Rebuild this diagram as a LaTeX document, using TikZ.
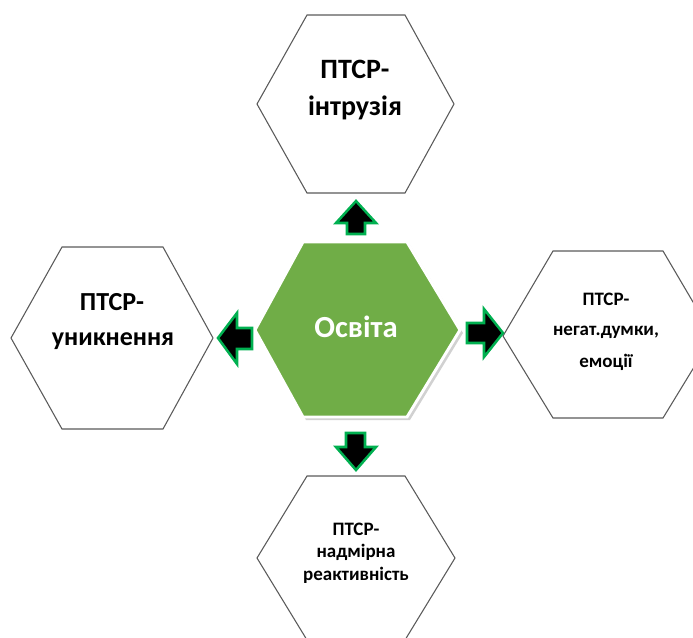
\documentclass[tikz,border=0pt]{standalone}
\usepackage{fontspec}
\setmainfont{Carlito}
\definecolor{hexgreen}{HTML}{70AD47}
\definecolor{arrgreen}{HTML}{00B050}
\definecolor{hexline}{HTML}{5A5A5A}
\tikzset{
  outerhex/.style={draw=hexline, line width=0.8pt, fill=white, line join=miter},
  centerhex/.style={draw=white, line width=2.2pt, fill=hexgreen, line join=miter},
  hexshadow/.style={fill=black!18},
  blockarrow/.style={fill=black, draw=arrgreen, line width=1.9pt, line join=miter},
  lbl/.style={inner sep=0pt, anchor=base, font=\bfseries},
}
\begin{document}
\begin{tikzpicture}[x=0.75pt, y=-0.75pt]
\useasboundingbox (0,0) rectangle (693,637);
\clip (0,0) rectangle (693,637);
% outer hexagons
\draw[outerhex] (257,104) -- (307,15) -- (405,15) -- (454,104) -- (405,193) -- (307,193) -- cycle;
\draw[outerhex] (11,338) -- (62,247) -- (163,247) -- (213,338) -- (163,429) -- (62,429) -- cycle;
\draw[outerhex] (503,336) -- (553,251) -- (663,251) -- (713,336) -- (663,418) -- (553,418) -- cycle;
\draw[outerhex] (257,558) -- (307,476) -- (405,476) -- (455,558) -- (405,640) -- (307,640) -- cycle;
% centre hexagon
\fill[hexshadow] (258,333) -- (306,245) -- (410,245) -- (463,333) -- (410,420) -- (306,420) -- cycle;
\draw[centerhex] (255,330) -- (303,242) -- (407,242) -- (460,330) -- (407,417) -- (303,417) -- cycle;
% arrows
\draw[blockarrow] (356,201) -- (376,223) -- (365,223) -- (365,234) -- (347,234) -- (347,223) -- (336,223) -- cycle;
\draw[blockarrow] (218,338) -- (237,313) -- (237,328) -- (252,328) -- (252,349) -- (237,349) -- (237,364) -- cycle;
\draw[blockarrow] (503,333) -- (484,309) -- (484,323) -- (467,323) -- (467,343) -- (484,343) -- (484,357) -- cycle;
\draw[blockarrow] (356,470) -- (376,447) -- (365,447) -- (365,433) -- (346,433) -- (346,447) -- (336,447) -- cycle;
% texts
\node[lbl, text=white, font=\bfseries\fontsize{23}{28}\selectfont] (c) at (356,337) {Освіта};
\node[lbl, font=\bfseries\fontsize{21}{25}\selectfont] (t1) at (355,78) {ПТСР-};
\node[lbl, font=\bfseries\fontsize{21}{25}\selectfont] (t2) at (355,115) {інтрузія};
\node[lbl, font=\bfseries\fontsize{19.5}{24}\selectfont] (l1) at (112,310) {ПТСР-};
\node[lbl, font=\bfseries\fontsize{19.5}{24}\selectfont] (l2) at (113,345) {уникнення};
\node[lbl, font=\bfseries\fontsize{14.25}{17}\selectfont] (r1) at (606,305) {ПТСР-};
\node[lbl, font=\bfseries\fontsize{14.25}{17}\selectfont] (r2) at (606,335) {негат.думки,};
\node[lbl, font=\bfseries\fontsize{14.25}{17}\selectfont] (r3) at (606,367) {емоції};
\node[lbl, font=\bfseries\fontsize{14.25}{17}\selectfont] (b1) at (356,535) {ПТСР-};
\node[lbl, font=\bfseries\fontsize{14.25}{17}\selectfont] (b2) at (356,557) {надмірна};
\node[lbl, font=\bfseries\fontsize{14.25}{17}\selectfont] (b3) at (356,580) {реактивність};
\end{tikzpicture}
\end{document}
